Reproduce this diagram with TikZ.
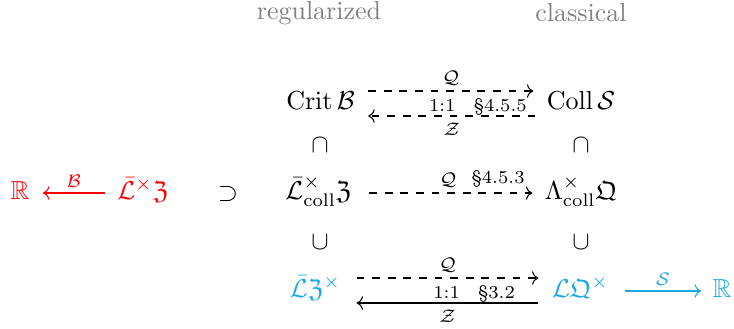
\documentclass[tikz,border=0pt]{standalone}
\usepackage{amsmath,amssymb}
\usetikzlibrary{arrows.meta,calc}
\definecolor{myred}{RGB}{255,0,0}
\definecolor{mycyan}{RGB}{27,169,228}
\definecolor{mygray}{RGB}{128,128,128}
\begin{document}
\begin{tikzpicture}[x=0.3846pt,y=-0.3846pt,
  every node/.style={inner sep=0pt},
  obj/.style={anchor=base},
  lbl/.style={font=\scriptsize},
  arr/.style={-{Computer Modern Rightarrow}, line width=0.4pt},
  darr/.style={arr, dashed},
  head/.style={text=mygray}]
\useasboundingbox (0,0) rectangle (734,328);

\node[head] (hreg) at (319,13) {regularized};
\node[head] (hcla) at (581,13) {classical};

\node[obj] (crit) at (320.5,109) {$\mathrm{Crit}\,\mathcal{B}$};
\node[obj] (coll) at (581,109) {$\mathrm{Coll}\,\mathcal{S}$};
\node (cap1) at (320,145) {$\cap$};
\node (cap2) at (581,145) {$\cap$};
\node[obj] (lcz) at (318.5,199) {$\bar{\mathcal{L}}^{\times}_{\mathrm{coll}}\mathfrak{Z}$};
\node[obj] (lam) at (581,199) {$\Lambda^{\times}_{\mathrm{coll}}\mathfrak{Q}$};
\node (cup1) at (320,242) {$\cup$};
\node (cup2) at (581,242) {$\cup$};
\node[obj,text=mycyan] (lz) at (315.5,297) {$\bar{\mathcal{L}}\mathfrak{Z}^{\times}$};
\node[obj,text=mycyan] (lq) at (580.5,297) {$\mathcal{L}\mathfrak{Q}^{\times}$};
\node[obj,text=mycyan] (r2) at (722,297) {$\mathbb{R}$};
\node[obj,text=myred] (r1) at (20,199) {$\mathbb{R}$};
\node[obj,text=myred] (lzr) at (143,199) {$\bar{\mathcal{L}}^{\times}\mathfrak{Z}$};
\node (sup) at (228,194) {$\supset$};

% top row
\draw[darr] ($(crit.base east)+(13,-18)$) -- node[lbl,above=2pt] {$\mathcal{Q}$} ($(coll.base west)+(-13,-18)$);
\draw[darr] ($(coll.base west)+(-11,7)$) -- node[lbl,below=2.5pt] {$\mathcal{Z}$} ($(crit.base east)+(13,7)$);
\node[lbl,anchor=base east] (t1) at ($(coll.base west)+(-19,2)$) {1:1\quad\S4.5.5};

% middle row
\draw[darr] ($(lcz.base east)+(17,-6)$) -- node[lbl,above=2pt,xshift=-1pt] {$\mathcal{Q}$} node[lbl,pos=0.79,above=2pt] {\S4.5.3} ($(lam.base west)+(-12,-6)$);

% bottom row
\draw[darr] ($(lz.base east)+(15,-19)$) -- node[lbl,above=2pt] {$\mathcal{Q}$} ($(lq.base west)+(-13,-19)$);
\draw[arr] ($(lq.base west)+(-13,6)$) -- node[lbl,below=2.5pt] {$\mathcal{Z}$} ($(lz.base east)+(15,6)$);
\node[lbl,anchor=base east] (t2) at ($(lq.base west)+(-36,1)$) {1:1\quad\S3.2};

% side arrows
\draw[arr,draw=myred] ($(lzr.base west)+(-12,-6)$) -- node[lbl,above=2pt,text=myred] {$\mathcal{B}$} ($(r1.base east)+(13,-6)$);
\draw[arr,draw=mycyan] ($(lq.base east)+(15,-6)$) -- node[lbl,above=2pt,text=mycyan] {$\mathcal{S}$} ($(r2.base west)+(-11,-6)$);
\end{tikzpicture}
\end{document}
